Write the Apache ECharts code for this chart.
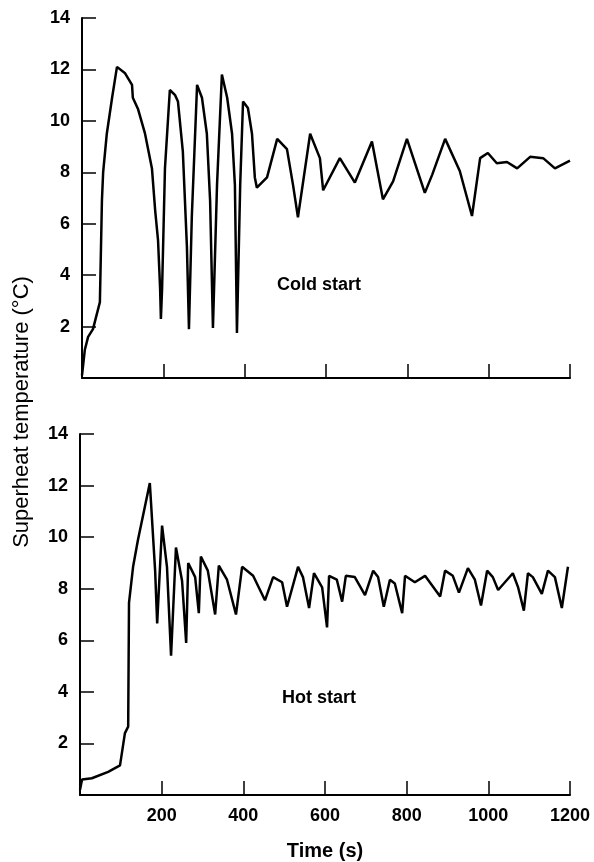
<!DOCTYPE html>
<html>
<head>
<meta charset="utf-8">
<script src="https://cdn.jsdelivr.net/npm/echarts@6/dist/echarts.min.js"></script>
<style>
  html, body { margin: 0; padding: 0; background: #fff; }
  #chart { width: 594px; height: 862px; }
</style>
</head>
<body>
<div id="chart"></div>
<script>
// cold start trace (time s, superheat °C)
var coldTime = [0, 7, 15, 27, 44, 49, 52, 61, 74, 86, 106, 123, 125, 138, 155, 172, 180, 187, 192, 194,
  197, 204, 216, 229, 236, 248, 258, 263, 270, 283, 295, 307, 315, 322, 332, 344, 357, 369, 376, 381,
  389, 396, 408, 418, 425, 430, 455, 480, 504, 519, 531, 561, 585, 593, 634, 671, 713, 740, 765, 799,
  843, 861, 893, 929, 959, 979, 998, 1020, 1045, 1070, 1102, 1134, 1163, 1200]
var coldTemp = [0.1, 1.1, 1.6, 1.9, 2.95, 6.9, 8.0, 9.5, 10.9, 12.1, 11.85, 11.4, 10.9, 10.45, 9.5, 8.15, 6.5, 5.35, 3.5, 2.3,
  3.5, 8.15, 11.2, 11.0, 10.75, 8.8, 5.1, 1.9, 6.25, 11.4, 10.9, 9.5, 6.9, 1.95, 7.5, 11.8, 10.9, 9.5, 7.5, 1.75,
  7.5, 10.75, 10.5, 9.5, 7.8, 7.4, 7.8, 9.3, 8.9, 7.5, 6.25, 9.5, 8.55, 7.3, 8.55, 7.6, 9.2, 6.95, 7.65, 9.3,
  7.2, 7.9, 9.3, 8.05, 6.3, 8.55, 8.75, 8.35, 8.4, 8.15, 8.6, 8.55, 8.15, 8.45]

// hot start trace
var hotTime = [0, 5, 29, 69, 98, 110, 118, 120, 130, 142, 171, 184, 189, 201, 213, 223, 235, 250, 260, 265,
  282, 291, 296, 313, 331, 340, 360, 382, 397, 424, 453, 473, 495, 507, 534, 546, 561, 573, 593, 605,
  610, 629, 642, 651, 673, 698, 718, 730, 744, 759, 771, 789, 796, 820, 845, 882, 894, 913, 928, 950,
  967, 982, 997, 1011, 1024, 1060, 1073, 1087, 1097, 1109, 1131, 1146, 1163, 1180, 1195]
var hotTemp = [0.2, 0.6, 0.65, 0.9, 1.15, 2.4, 2.65, 7.45, 8.85, 9.9, 12.1, 8.7, 6.65, 10.45, 8.85, 5.4, 9.6, 8.3, 5.9, 9.0,
  8.45, 7.05, 9.25, 8.7, 7.0, 8.9, 8.35, 7.0, 8.85, 8.5, 7.55, 8.45, 8.25, 7.3, 8.85, 8.45, 7.25, 8.6, 8.05, 6.5,
  8.5, 8.35, 7.5, 8.5, 8.45, 7.75, 8.7, 8.45, 7.3, 8.35, 8.2, 7.05, 8.5, 8.25, 8.5, 7.7, 8.7, 8.5, 7.85, 8.8,
  8.35, 7.35, 8.7, 8.45, 7.95, 8.6, 8.05, 7.15, 8.6, 8.45, 7.8, 8.7, 8.45, 7.25, 8.85]

var xTicks = [0, 200, 400, 600, 800, 1000, 1200]
var yTicks = [0, 2, 4, 6, 8, 10, 12, 14]

var font = 'Liberation Sans, Arial, sans-serif'

function pairs(xs, ys) {
  var out = []
  for (var i = 0; i < xs.length; i++) {
    out.push([xs[i], ys[i]])
  }
  return out
}

function xAxisOf(idx, showLabels) {
  return {
    type: 'value',
    gridIndex: idx,
    min: xTicks[0],
    max: xTicks[xTicks.length - 1],
    interval: 200,
    axisLine: { show: true, onZero: false, lineStyle: { color: '#000', width: 2 } },
    axisTick: { show: true, inside: true, length: 14, lineStyle: { color: '#000', width: 1.5 } },
    splitLine: { show: false },
    axisLabel: {
      show: showLabels,
      color: '#000',
      fontFamily: font,
      fontSize: 18,
      fontWeight: 'bold',
      margin: 12,
      formatter: function (v) { return v === 0 ? '' : v }
    },
    name: showLabels ? 'Time (s)' : '',
    nameLocation: 'middle',
    nameGap: 46,
    nameTextStyle: { color: '#000', fontFamily: font, fontSize: 20, fontWeight: 'bold' }
  }
}

function yAxisOf(idx) {
  return {
    type: 'value',
    gridIndex: idx,
    min: yTicks[0],
    max: yTicks[yTicks.length - 1],
    interval: 2,
    axisLine: { show: true, onZero: false, lineStyle: { color: '#000', width: 2 } },
    axisTick: { show: true, inside: true, length: 14, lineStyle: { color: '#000', width: 1.5 } },
    splitLine: { show: false },
    axisLabel: {
      color: '#000',
      fontFamily: font,
      fontSize: 18,
      fontWeight: 'bold',
      margin: 12,
      formatter: function (v) { return v === 0 ? '' : v }
    }
  }
}

var myChart = echarts.init(document.getElementById('chart'))
myChart.setOption({
  animation: false,
  backgroundColor: '#fff',
  grid: [
    { left: 82, top: 18, width: 488, height: 360 },
    { left: 80, top: 434, width: 490, height: 361 }
  ],
  xAxis: [xAxisOf(0, false), xAxisOf(1, true)],
  yAxis: [yAxisOf(0), yAxisOf(1)],
  series: [
    {
      type: 'line',
      xAxisIndex: 0,
      yAxisIndex: 0,
      data: pairs(coldTime, coldTemp),
      showSymbol: false,
      lineStyle: { color: '#000', width: 2.5 }
    },
    {
      type: 'line',
      xAxisIndex: 1,
      yAxisIndex: 1,
      data: pairs(hotTime, hotTemp),
      showSymbol: false,
      lineStyle: { color: '#000', width: 2.5 }
    }
  ],
  graphic: [
    {
      type: 'text',
      x: 22,
      y: 412,
      rotation: Math.PI / 2,
      style: {
        text: 'Superheat temperature (°C)',
        fill: '#000',
        font: '22px ' + font,
        textAlign: 'center',
        textVerticalAlign: 'middle'
      }
    },
    {
      type: 'text',
      x: 277,
      y: 285,
      style: {
        text: 'Cold start',
        fill: '#000',
        font: 'bold 18px ' + font,
        textVerticalAlign: 'middle'
      }
    },
    {
      type: 'text',
      x: 282,
      y: 698,
      style: {
        text: 'Hot start',
        fill: '#000',
        font: 'bold 18px ' + font,
        textVerticalAlign: 'middle'
      }
    }
  ]
})
</script>
</body>
</html>
